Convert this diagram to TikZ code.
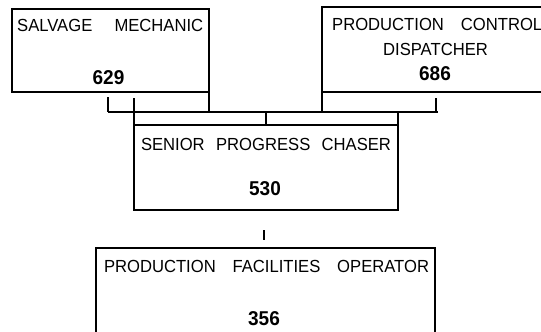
\documentclass[tikz,border=0pt]{standalone}
\usepackage{fontspec}
\setmainfont{Liberation Sans}
\newfontfamily\chartfont[FakeStretch=0.95]{Liberation Sans}
\usepackage{tikz}
\newcommand{\spread}[2]{\makebox[#1][s]{#2}}

\begin{document}
\begin{tikzpicture}[x=1pt,y=-1pt,
    unit/.style={draw,line width=2.8pt,inner sep=0,outer sep=0},
    title/.style={inner sep=0,font=\chartfont\fontsize{17.5}{20}\selectfont},
    code/.style={inner sep=0,anchor=base,font=\chartfont\fontsize{20}{23}\selectfont\bfseries},
    link/.style={line width=2.8pt},
    tick/.style={line width=1.4pt}]
    \clip (0,0) rectangle (541,332);
    % boxes
    \node[unit,minimum width=197,minimum height=83] (salvage) at (110.5,50.5) {};
    \node[unit,minimum width=238,minimum height=85] (dispatch) at (441,49.5) {};
    \node[unit,minimum width=264,minimum height=85] (chaser) at (266,167.5) {};
    \node[unit,minimum width=339,minimum height=97] (operator) at (265.5,296.5) {};
    % texts
    \node[title,anchor=base west] (salvage-t) at (17,31) {\spread{186pt}{SALVAGE MECHANIC}};
    \node[code] (salvage-n) at (108.5,84) {629};
    \node[title,anchor=base west] (dispatch-t) at (332,30) {\spread{210pt}{PRODUCTION CONTROL}};
    \node[title,anchor=base] (dispatch-s) at (435.5,55) {DISPATCHER};
    \node[code] (dispatch-n) at (435,80) {686};
    \node[title,anchor=base] (chaser-t) at (266,150) {\spread{250pt}{SENIOR PROGRESS CHASER}};
    \node[code] (chaser-n) at (265,195) {530};
    \node[title,anchor=base] (operator-t) at (266.5,272) {\spread{325pt}{PRODUCTION FACILITIES OPERATOR}};
    \node[code] (operator-n) at (264,325) {356};
    % connectors
    \coordinate (busW) at (108,112);
    \coordinate (busE) at (438,112);
    \coordinate (salvageTick) at (108,97);
    \coordinate (dispatchTick) at (436,98);
    \coordinate (chaserTop) at (134,98);
    \coordinate (midTop) at (264,230);
    \coordinate (midEnd) at (264,240);
    \draw[link] (busW) -- (busE);
    \draw[link] (salvage.south east) -- (salvage.south east |- busW);
    \draw[link] (dispatch.south west) -- (dispatch.south west |- busW);
    \draw[link] (chaser.north west) -- (chaserTop);
    \draw[link] (chaser.north east) -- (chaser.north east |- busW);
    \draw[tick] (salvageTick) -- (busW);
    \draw[tick] (dispatchTick) -- (dispatchTick |- busW);
    \draw[tick] (chaser.north) -- (chaser.north |- busW);
    \draw[tick] (midTop) -- (midEnd);
\end{tikzpicture}
\end{document}
